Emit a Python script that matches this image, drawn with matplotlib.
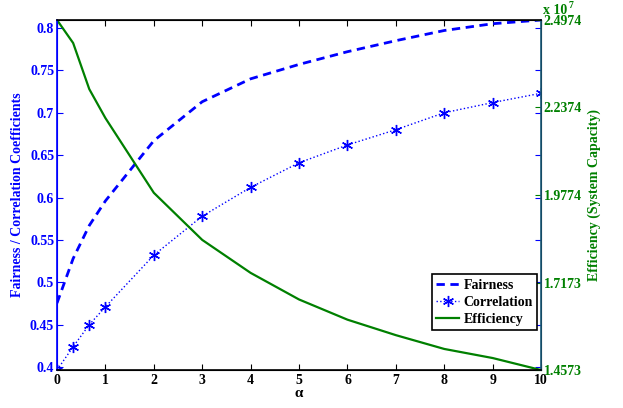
#Fairness / correlation vs efficiency as alpha varies, two y axes.
import matplotlib
matplotlib.use('Agg')
import matplotlib.pyplot as plt

plt.rcParams['font.family'] = 'Liberation Serif'
plt.rcParams['font.weight'] = 'bold'
plt.rcParams['axes.labelweight'] = 'bold'
plt.rcParams['font.size'] = 10

alpha = [0, 1/3, 2/3, 1, 2, 3, 4, 5, 6, 7, 8, 9, 10]
fairness = [0.4755, 0.528, 0.567, 0.596, 0.667, 0.713, 0.740, 0.757, 0.772, 0.785, 0.797, 0.805, 0.8094]
correlation = [0.3965, 0.424, 0.450, 0.471, 0.532, 0.578, 0.612, 0.641, 0.662, 0.680, 0.700, 0.712, 0.723]
efficiency = [2.4974, 2.429, 2.292, 2.206, 1.984, 1.844, 1.746, 1.667, 1.607, 1.561, 1.520, 1.493, 1.4573]  # x 10^7

left_ticks = [0.4, 0.45, 0.5, 0.55, 0.6, 0.65, 0.7, 0.75, 0.8]
right_ticks = [1.4573, 1.7173, 1.9774, 2.2374, 2.4974]

blue = '#0000ff'
green = '#008000'
asterisk = (6, 2, 0)

fig = plt.figure(figsize=(6.23, 4.08), dpi=100)
ax = fig.add_axes([0.0915, 0.093, 0.777, 0.858])
ax2 = ax.twinx()

l1, = ax.plot(alpha, fairness, '--', color=blue, lw=2, dashes=(3, 2))
l2, = ax.plot(alpha, correlation, ':', color=blue, lw=1, marker=asterisk, ms=8, mew=1)
l3, = ax2.plot(alpha, efficiency, '-', color=green, lw=1.6)

ax.set_xlim(0, 10)
ax.set_ylim(0.3965, 0.8094)
ax2.set_ylim(1.4573, 2.4974)
ax.set_xticks(range(0, 11))
ax.set_yticks(left_ticks)
ax.set_yticklabels(['%g' % t for t in left_ticks])
ax2.set_yticks(right_ticks)
ax2.set_yticklabels(['%.4f' % t for t in right_ticks])

ax.tick_params(axis='x', direction='in', top=True, length=4, colors='black', pad=3)
ax.tick_params(axis='y', direction='in', right=True, length=4, colors=blue, pad=2)
ax2.tick_params(axis='y', direction='in', length=4, colors=green, pad=2)

ax.spines['left'].set_color(blue)
ax2.spines['left'].set_color(blue)
ax2.spines['right'].set_color('#1a5a7a')
for s in ['left', 'right', 'top', 'bottom']:
    ax2.spines[s].set_linewidth(1.2)

ax.set_xlabel('α', fontsize=11, labelpad=0)
ax.set_ylabel('Fairness / Correlation Coefficients', color=blue, labelpad=4)
ax2.set_ylabel('Efficiency (System Capacity)', color=green, labelpad=4)

# exponent label above the right axis (touches the top tick label, as in the original)
ax2.text(1.004, 1.016, 'x 10', transform=ax.transAxes, color=green, ha='left', va='baseline')
ax2.text(1.056, 1.034, '7', transform=ax.transAxes, color=green, ha='left', va='baseline', fontsize=7)

leg = ax2.legend([l1, l2, l3], ['Fairness', 'Correlation', 'Efficiency'],
                 loc='lower right', bbox_to_anchor=(0.992, 0.114), fancybox=False,
                 edgecolor='black', framealpha=1, handlelength=1.7, borderpad=0.3,
                 labelspacing=0.3, handletextpad=0.3, borderaxespad=0)
leg.get_frame().set_linewidth(1.2)

fig.savefig('out.png', dpi=100)
